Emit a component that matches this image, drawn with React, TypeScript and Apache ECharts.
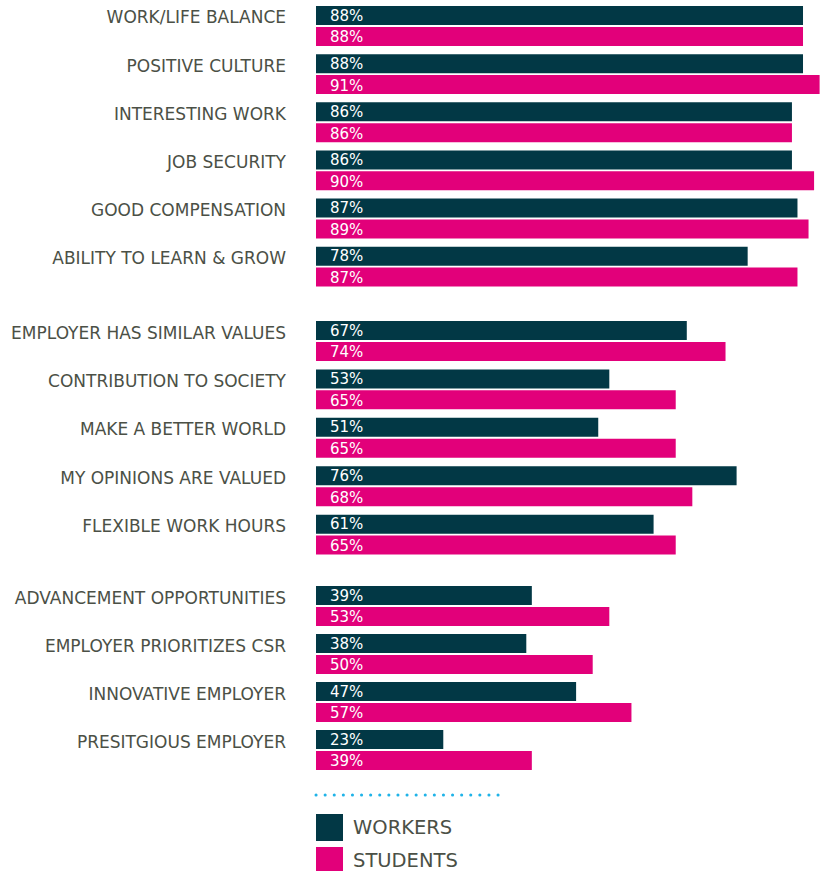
import React, { useEffect, useRef } from "react";
import * as echarts from "echarts";

const group1 = ["WORK/LIFE BALANCE", "POSITIVE CULTURE", "INTERESTING WORK", "JOB SECURITY", "GOOD COMPENSATION", "ABILITY TO LEARN & GROW"];
const workers1 = [88, 88, 86, 86, 87, 78];
const students1 = [88, 91, 86, 90, 89, 87];

const group2 = ["EMPLOYER HAS SIMILAR VALUES", "CONTRIBUTION TO SOCIETY", "MAKE A BETTER WORLD", "MY OPINIONS ARE VALUED", "FLEXIBLE WORK HOURS"];
const workers2 = [67, 53, 51, 76, 61];
const students2 = [74, 65, 65, 68, 65];

const group3 = ["ADVANCEMENT OPPORTUNITIES", "EMPLOYER PRIORITIZES CSR", "INNOVATIVE EMPLOYER", "PRESITGIOUS EMPLOYER"];
const workers3 = [39, 38, 47, 23];
const students3 = [53, 50, 57, 39];

const DARK = "#023845";
const PINK = "#e2007a";
const TEXT = "#4b5046";
const FONT = "DejaVu Sans";

export default function App() {
  const ref = useRef<HTMLDivElement>(null);
  useEffect(() => {
    document.body.style.margin = "0";
    const chart = echarts.init(ref.current!, undefined, { renderer: "svg" });
    const groups = [
      { cats: group1, w: workers1, s: students1, top: 1.93, height: 288.8 },
      { cats: group2, w: workers2, s: students2, top: 316.8, height: 242 },
      { cats: group3, w: workers3, s: students3, top: 582, height: 192 },
    ];
    const label = {
      show: true,
      position: "insideLeft",
      distance: 14,
      color: "#ffffff",
      fontFamily: FONT,
      fontSize: 15,
      formatter: "{c}%",
    };
    chart.setOption({
      animation: false,
      grid: groups.map((g) => ({ left: 316, right: 0, top: g.top, height: g.height })),
      xAxis: groups.map((_, i) => ({
        type: "value",
        gridIndex: i,
        min: 0,
        max: 91.07,
        show: false,
      })),
      yAxis: groups.map((g, i) => ({
        type: "category",
        gridIndex: i,
        data: g.cats,
        inverse: true,
        axisLine: { show: false },
        axisTick: { show: false },
        splitLine: { show: false },
        axisLabel: {
          margin: 30,
          color: TEXT,
          fontFamily: FONT,
          fontSize: 17,
          lineHeight: 17,
          verticalAlign: "bottom",
        },
      })),
      legend: {
        orient: "vertical",
        left: 316,
        top: 814,
        padding: 0,
        itemWidth: 27,
        itemHeight: 27,
        itemGap: 6,
        icon: "rect",
        textStyle: { color: TEXT, fontFamily: FONT, fontSize: 19.5, padding: [0, 0, 0, 5] },
        data: ["WORKERS", "STUDENTS"],
      },
      graphic: [
        {
          type: "line",
          shape: { x1: 316, y1: 795, x2: 500, y2: 795 },
          style: { stroke: "#1fb3e8", lineWidth: 3, lineDash: [0.1, 9], lineCap: "round" },
        },
      ],
      series: groups.flatMap((g, i) => [
        {
          name: "WORKERS",
          type: "bar",
          xAxisIndex: i,
          yAxisIndex: i,
          data: g.w,
          barWidth: 19,
          barGap: "10%",
          itemStyle: { color: DARK },
          label: { ...label, offset: [0, 0] },
        },
        {
          name: "STUDENTS",
          type: "bar",
          xAxisIndex: i,
          yAxisIndex: i,
          data: g.s,
          barWidth: 19,
          barGap: "10%",
          itemStyle: { color: PINK },
          label: { ...label, offset: [0, 1] },
        },
      ]),
    });
    return () => chart.dispose();
  }, []);
  return <div ref={ref} style={{ width: 820, height: 880 }} />;
}
